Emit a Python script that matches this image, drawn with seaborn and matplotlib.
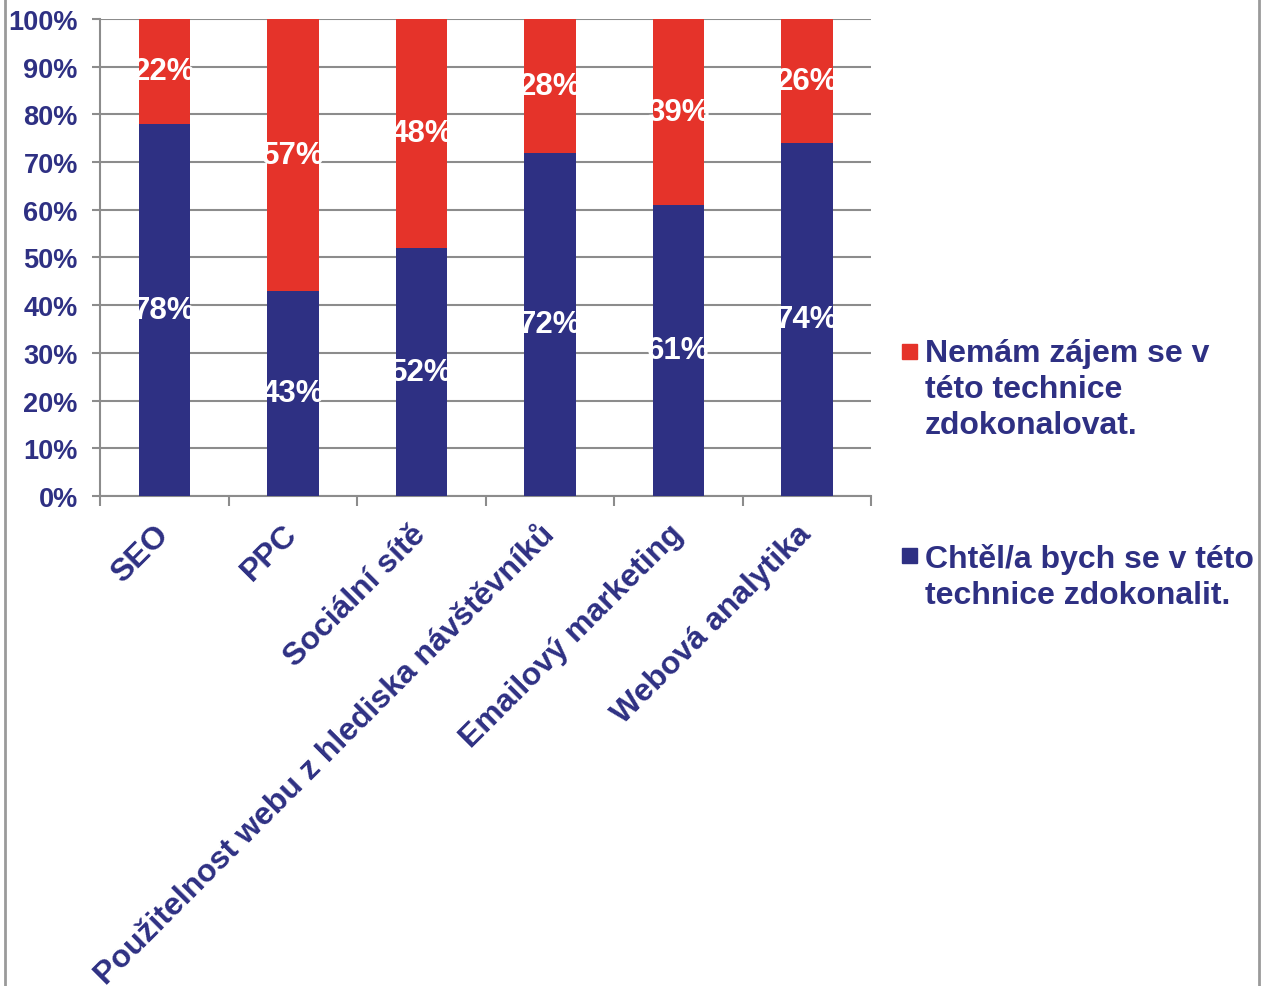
import pandas as pd
import matplotlib.pyplot as plt
import matplotlib.patches as mpatches
import matplotlib.lines as mlines
import seaborn as sns

# Data
categories = ['SEO', 'PPC', 'Sociální sítě', 'Použitelnost webu z hlediska návštěvníků',
              'Emailový marketing', 'Webová analytika']
want = [78, 43, 52, 72, 61, 74]        # Chtěl/a bych se v této technice zdokonalit.
not_want = [22, 57, 48, 28, 39, 26]    # Nemám zájem se v této technice zdokonalovat.
yticks = [0, 10, 20, 30, 40, 50, 60, 70, 80, 90, 100]

red = '#E5332A'
blue = '#2E3083'
grid = '#8C8C8C'

df = pd.DataFrame({'cat': categories, 'want': want, 'not_want': not_want})
df['total'] = df['want'] + df['not_want']

sns.set_style('white')
plt.rcParams['font.family'] = ['Liberation Sans', 'DejaVu Sans']
plt.rcParams['font.weight'] = 'bold'

fig = plt.figure(figsize=(12.65, 9.87), dpi=100)
ax = fig.add_axes([0.0791, 0.4965, 0.6095, 0.4833])

# stacked bars: full (red) then bottom part (blue) on top
sns.barplot(data=df, x='cat', y='total', color=red, width=0.4, saturation=1,
            order=categories, ax=ax, zorder=2, linewidth=0)
sns.barplot(data=df, x='cat', y='want', color=blue, width=0.4, saturation=1,
            order=categories, ax=ax, zorder=3, linewidth=0)

# value labels
for i, row in df.iterrows():
    ax.text(i, row['want'] / 2, f"{row['want']}%", ha='center', va='center',
            color='white', fontsize=22.5, fontweight='bold', zorder=4)
    ax.text(i, row['want'] + row['not_want'] / 2, f"{row['not_want']}%", ha='center',
            va='center', color='white', fontsize=22.5, fontweight='bold', zorder=4)

ax.set_xlim(-0.5, len(categories) - 0.5)
ax.set_ylim(0, 100)
ax.set_yticks(yticks)
ax.set_yticklabels([f'{t}%' for t in yticks])
ax.yaxis.grid(True, color=grid, linewidth=1.5)
ax.set_axisbelow(True)

for s in ['top', 'right']:
    ax.spines[s].set_visible(False)
for s in ['left', 'bottom']:
    ax.spines[s].set_color(grid)
    ax.spines[s].set_linewidth(1.5)

ax.tick_params(axis='y', length=6, width=1.5, color=grid, pad=10,
               labelsize=19.5, labelcolor=blue, left=True)
ax.set_xticks(range(len(categories)))
ax.set_xticklabels(categories, rotation=45, ha='right', va='center',
                   rotation_mode='anchor', fontsize=23, color=blue, fontweight='bold')
ax.tick_params(axis='x', length=0, pad=24)
ax.set_xticks([i - 0.5 for i in range(len(categories) + 1)], minor=True)
ax.tick_params(axis='x', which='minor', length=7, width=1.5, color=grid, bottom=True)
ax.set_xlabel('')
ax.set_ylabel('')

# legend drawn by hand (square next to first line)
fig.add_artist(mpatches.Rectangle((0.713, 0.6353), 15 / 1265, 15 / 987,
                                  transform=fig.transFigure, color=red))
fig.text(0.7312, 0.6565, 'Nemám zájem se v\ntéto technice\nzdokonalovat.',
         ha='left', va='top', fontsize=23, color=blue, fontweight='bold', linespacing=1.27)
fig.add_artist(mpatches.Rectangle((0.713, 0.4286), 15 / 1265, 15 / 987,
                                  transform=fig.transFigure, color=blue))
fig.text(0.7312, 0.449, 'Chtěl/a bych se v této\ntechnice zdokonalit.',
         ha='left', va='top', fontsize=23, color=blue, fontweight='bold', linespacing=1.27)

# outer frame lines at left and right
for xf in [5 / 1265, 1258.5 / 1265]:
    fig.add_artist(mlines.Line2D([xf, xf], [0, 1], transform=fig.transFigure,
                                 color='#9A9A9A', linewidth=2))

fig.savefig('out.png', dpi=100)
